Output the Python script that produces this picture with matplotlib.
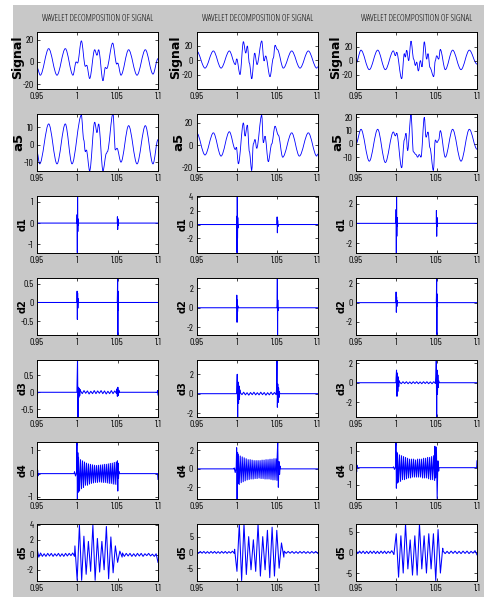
import numpy as np
import matplotlib
import matplotlib.pyplot as plt
from matplotlib.path import Path
from matplotlib.patches import PathPatch, Rectangle

matplotlib.use("Agg")

plt.rcParams["axes.unicode_minus"] = False

TICK_FONT = "Barlow Condensed"
TITLE_FONT = "Open Sans"
TITLE = "WAVELET DECOMPOSITION OF SIGNAL"
XTICKS = [0.95, 1.0, 1.05, 1.1]
XTICK_LABELS = ["0.95", "1", "1.05", "1.1"]
ROW_NAMES = ["Signal", "a5", "d1", "d2", "d3", "d4", "d5"]

# ---- signal and approximation a5 (peak / trough knots) ----
sig_c1_t = [0.950, 0.9541, 0.9645, 0.9748, 0.9851, 0.9946, 0.9985, 1.0003, 1.0050,
            1.0099, 1.0116, 1.0153, 1.0215, 1.0244, 1.0264, 1.0318, 1.0347, 1.0364,
            1.0438, 1.0488, 1.0500, 1.0541, 1.0636, 1.0740, 1.0843, 1.0938, 1.1]
sig_c1_v = [-5, -12, 12, -12, 12, -12, 0, -1, 19,
            -4, -3, -15, 11, 6, 11, -17, -5, -6,
            17, -2, -1, -12, 11, -12, 11, -11, 3]

a5_c1_t = [0.950, 0.9533, 0.9645, 0.9748, 0.9851, 0.9934, 1.0050, 1.0079, 1.0099,
           1.0112, 1.0153, 1.0215, 1.0244, 1.0264, 1.0318, 1.0360, 1.0372, 1.0442,
           1.0471, 1.0492, 1.0541, 1.0636, 1.0740, 1.0843, 1.0938, 1.1]
a5_c1_v = [-4, -11, 12, -11, 12, -11, 17, 3, -4,
           -3, -15, 13, 7, 12, -15, -5, -4, 18,
           -3, -2, -10, 11, -11, 11, -11, 3]

sig_c2_t = [0.950, 0.9603, 0.9707, 0.9802, 0.9905, 0.9979, 0.9996, 1.0037, 1.0079,
            1.0108, 1.0128, 1.0153, 1.0182, 1.0219, 1.0248, 1.0306, 1.0335, 1.0355,
            1.0409, 1.0450, 1.0471, 1.0500, 1.0574, 1.0678, 1.0781, 1.0884, 1.0988, 1.1]
sig_c2_v = [13, -11, 13, -11, 13, -6, 2, -20, 26,
            10, 20, -4, -26, 10, -6, 27, -1, 6,
            -23, 3, 21, 15, -11, 13, -11, 13, -11, -9]

a5_c2_t = [0.950, 0.9603, 0.9707, 0.9802, 0.9905, 0.9979, 0.9992, 1.0017, 1.0079,
           1.0099, 1.0128, 1.0153, 1.0182, 1.0202, 1.0223, 1.0244, 1.0306, 1.0326,
           1.0347, 1.0388, 1.0430, 1.0471, 1.0512, 1.0566, 1.0678, 1.0773, 1.0884,
           1.0988, 1.1]
a5_c2_v = [11, -9, 11, -10, 12, -4, -2, -17, 20,
           8, 18, -6, -23, 1, 5, -3, 27, 2,
           8, -15, 1, 17, 9, -11, 11, -10, 11,
           -10, -8]

sig_c3_t = [0.950, 0.9562, 0.9665, 0.9769, 0.9864, 0.9963, 0.9988, 1.0004, 1.0066,
            1.0099, 1.0112, 1.0128, 1.0153, 1.0182, 1.0215, 1.0236, 1.0252, 1.0273,
            1.0298, 1.0318, 1.0347, 1.0376, 1.0393, 1.0417, 1.0463, 1.0483, 1.0500,
            1.0525, 1.0545, 1.0607, 1.0698, 1.0802, 1.0905, 1.1]
sig_c3_v = [-4, 15, -13, 15, -13, 14, 7, 12, -26,
            10, 5, 15, 0, 28, 2, -7, -2, -15,
            0, -9, 27, 2, 10, -10, -23, 0, 7,
            2, 16, -13, 15, -13, 15, -5]

a5_c3_t = [0.950, 0.9562, 0.9665, 0.9769, 0.9864, 0.9963, 0.9988, 1.0004, 1.0066,
           1.0099, 1.0120, 1.0140, 1.0182, 1.0211, 1.0244, 1.0264, 1.0285, 1.0306,
           1.0347, 1.0368, 1.0393, 1.0417, 1.0459, 1.0483, 1.0504, 1.0525, 1.0545,
           1.0607, 1.0698, 1.0802, 1.0905, 1.1]
a5_c3_v = [0, 11, -13, 11, -14, 9, 6, 8, -18,
           3, 8, -5, 22, -6, -8, -10, -8, -10,
           20, 5, 9, -3, -20, 3, 1, 3, 10,
           -10, 11, -13, 11, -4]

# ---- details d1..d5: (t_start, t_end, values) pieces ----
d1_c1 = [(0.95, 0.9995, [0, 0]),
         (0.9997, 1.0012, [0.4, -1.4, 1.3, -0.4, 0.2, -0.1]),
         (1.0015, 1.0495, [0, 0]),
         (1.0497, 1.0507, [0.3, -0.3, 0.2, -0.1]),
         (1.051, 1.1, [0, 0])]
d2_c1 = [(0.95, 0.9995, [0, 0]),
         (0.9997, 1.001, [0.3, -0.45, 0.25, -0.15, 0.1]),
         (1.0013, 1.0495, [0, 0]),
         (1.0497, 1.0508, [0.2, 0.7, -0.9, 0.3, -0.2]),
         (1.051, 1.1, [0, 0])]
d3_c1 = [(0.95, 0.951, [0.05, -0.08, 0]),
         (0.952, 0.9995, [0, 0]),
         (0.9997, 1.0035, [0.3, 1.0, -0.75, 0.15, -0.15, 0.12, -0.1, 0.08]),
         (1.004, 1.0485, [0.04, -0.04, 0.05, -0.03, 0.04, -0.05, 0.03, -0.04, 0.05, -0.04,
                          0.04, -0.03, 0.05, -0.04, 0.04, -0.05, 0.03, -0.04, 0.05, -0.04,
                          0.04, -0.03]),
         (1.049, 1.0515, [0.1, -0.12, 0.15, -0.1, 0.06]),
         (1.052, 1.099, [0, 0]),
         (1.0995, 1.1, [0.05, -0.08])]
d4_c1 = [(0.95, 0.9515, [0.2, -0.25, 0.15, -0.1, 0]),
         (0.952, 0.996, [0, 0]),
         (0.9965, 0.999, [0.08, -0.1, 0.05]),
         (0.9995, 1.0012, [1.4, -1.1, 0.9, -0.8]),
         (1.0015, 1.0495, [0.7, -0.75, 0.6, -0.65, 0.55, -0.6, 0.5, -0.5, 0.45, -0.5,
                           0.42, -0.45, 0.4, -0.42, 0.38, -0.4, 0.36, -0.38, 0.35, -0.38,
                           0.36, -0.36, 0.37, -0.37, 0.38, -0.38, 0.4, -0.38, 0.4, -0.4,
                           0.42, -0.42, 0.44, -0.42, 0.45, -0.45, 0.48, -0.46, 0.5, -0.48]),
         (1.0497, 1.0515, [0.55, -0.75, 0.45, -0.2, 0.1]),
         (1.052, 1.0995, [0, 0]),
         (1.0997, 1.1, [-0.1, -0.25])]
d5_c1 = [(0.95, 0.9965, [0.9, -0.3, 0.25, -0.2, 0.15, -0.2, 0.2, -0.15, 0.2, -0.2, 0.15,
                         -0.15, 0.2, -0.2, 0.15, -0.2, 0.2, -0.15, 0.2, -0.1, 0.25, -0.2]),
         (0.997, 1.0555, [1.2, -3.4, 4.0, -3.4, 2.5, -2.6, 1.8, -2.2, 4.0, -3.4, 2.2,
                          -2.3, 1.8, -2.0, 3.8, -3.2, 2.4, -2.4, 1.2, -1.0, 0.5, -0.3]),
         (1.056, 1.1, [0.25, -0.2, 0.2, -0.15, 0.2, -0.2, 0.15, -0.2, 0.2, -0.15, 0.2,
                       -0.2, 0.15, -0.1, 0.2, -0.15, 0.1, -0.2, 0.15, -1.0])]

d1_c2 = [(0.95, 0.9995, [0, 0]),
         (0.9997, 1.0012, [1.2, -4.1, 4.2, -2.0, 1.0, -0.5]),
         (1.0015, 1.0495, [0, 0]),
         (1.0497, 1.0507, [1.1, -1.2, 0.6, -0.3]),
         (1.051, 1.1, [0, 0])]
d2_c2 = [(0.95, 0.9995, [0, 0]),
         (0.9997, 1.001, [1.3, -1.5, 0.8, -0.4, 0.2]),
         (1.0013, 1.0495, [0, 0]),
         (1.0497, 1.0508, [0.5, 3.1, -2.8, 0.8, -0.3]),
         (1.051, 1.1, [0, 0])]
d3_c2 = [(0.95, 0.9995, [0, 0]),
         (0.9997, 1.0035, [0.5, 2.0, -2.4, 1.2, -1.0, 0.8, -0.6, 0.4]),
         (1.004, 1.0485, [0.12, -0.1, 0.15, -0.12, 0.1, -0.15, 0.12, -0.1, 0.15, -0.12,
                          0.1, -0.12, 0.15, -0.1, 0.12, -0.15, 0.1, -0.12, 0.15, -0.1,
                          0.12, -0.1]),
         (1.049, 1.0525, [0.5, 3.5, -1.4, 1.0, -0.9, 0.6, -0.4, 0.2]),
         (1.053, 1.1, [0, 0])]
d4_c2 = [(0.95, 0.996, [0, 0]),
         (0.9965, 0.999, [0.1, -0.4, 0.2]),
         (0.9995, 1.0012, [2.3, -3.3, 1.8, -1.6]),
         (1.0015, 1.0495, [1.6, -1.7, 1.4, -1.5, 1.3, -1.4, 1.2, -1.3, 1.1, -1.2,
                           1.0, -1.15, 1.0, -1.1, 0.95, -1.1, 0.9, -1.05, 0.9, -1.05,
                           0.9, -1.0, 0.9, -1.05, 0.95, -1.05, 0.95, -1.1, 1.0, -1.1,
                           1.0, -1.1, 1.05, -1.15, 1.05, -1.2, 1.1, -1.2, 1.1, -1.25]),
         (1.0497, 1.0535, [1.2, 2.95, -2.0, 0.8, -0.6, 0.3]),
         (1.054, 1.1, [0, 0])]
d5_c2 = [(0.95, 0.9965, [0.4, -0.3, 0.3, -0.25, 0.3, -0.3, 0.25, -0.3, 0.3, -0.25, 0.3,
                         -0.3, 0.25, -0.3, 0.3, -0.25, 0.3, -0.3, 0.25, -0.2, 0.4, -0.3]),
         (0.997, 1.058, [1.0, -6.0, 9.0, -8.9, 9.0, -7.0, 5.0, -5.5, 4.0, -6.0, 9.0,
                         -7.5, 5.0, -5.5, 7.0, -8.0, 8.0, -7.5, 7.0, -5.0, 3.0, -1.5]),
         (1.0585, 1.1, [0.4, -0.3, 0.3, -0.25, 0.3, -0.3, 0.25, -0.3, 0.3, -0.25, 0.3,
                        -0.3, 0.25, -0.3, 0.3, -0.25, 0.3, -0.3])]

d1_c3 = [(0.95, 0.9995, [0, 0]),
         (0.9997, 1.0012, [1.4, -3.0, 2.8, -1.3, 0.6, -0.3]),
         (1.0015, 1.0495, [0, 0]),
         (1.0497, 1.0507, [1.3, -1.3, 0.6, -0.3]),
         (1.051, 1.1, [0, 0])]
d2_c3 = [(0.95, 0.9995, [0, 0]),
         (0.9997, 1.001, [1.1, -1.0, 0.6, -0.4, 0.2]),
         (1.0013, 1.0495, [0, 0]),
         (1.0497, 1.0508, [0.6, 2.6, -3.3, 0.9, -0.4]),
         (1.051, 1.1, [0, 0])]
d3_c3 = [(0.95, 0.9995, [0, 0]),
         (0.9997, 1.0035, [0.5, 1.3, -1.4, 1.0, -0.9, 0.6, -0.4, 0.2]),
         (1.004, 1.0485, [0.08, -0.1, 0.1, -0.08, 0.1, -0.1, 0.08, -0.1, 0.1, -0.08,
                          0.1, -0.1, 0.08, -0.1, 0.1, -0.08, 0.1, -0.1, 0.08, -0.1,
                          0.1, -0.08]),
         (1.049, 1.0525, [0.6, 2.4, -3.5, 1.3, -1.2, 0.8, -0.5, 0.2]),
         (1.053, 1.1, [0, 0])]
d4_c3 = [(0.95, 0.9515, [0.1, 0.5, -0.25, 0.15, 0]),
         (0.952, 0.996, [0, 0]),
         (0.9965, 0.999, [0.05, -0.1, 0.05]),
         (0.9995, 1.0012, [1.5, -1.2, 0.9, -0.9]),
         (1.0015, 1.0475, [0.8, -0.85, 0.75, -0.8, 0.7, -0.7, 0.65, -0.7, 0.6, -0.65,
                           0.55, -0.6, 0.5, -0.6, 0.5, -0.55, 0.5, -0.55, 0.45, -0.55,
                           0.5, -0.55, 0.5, -0.55, 0.5, -0.6, 0.55, -0.6, 0.55, -0.6,
                           0.6, -0.65, 0.6, -0.7, 0.65, -0.7, 0.7, -0.75]),
         (1.0478, 1.0525, [1.25, -0.6, 1.2, -1.8, 0.4, -0.2]),
         (1.053, 1.0995, [0, 0]),
         (1.0997, 1.1, [0.1, 0.4])]
d5_c3 = [(0.95, 0.9965, [0.5, -0.3, 0.3, -0.25, 0.3, -0.3, 0.25, -0.3, 0.3, -0.25, 0.3,
                         -0.3, 0.25, -0.3, 0.3, -0.25, 0.3, -0.3, 0.25, -0.2, 0.4, -0.3]),
         (0.997, 1.0575, [-0.5, 4.5, -6.0, 4.0, -5.0, 6.85, -4.0, 3.0, -5.5, 4.0, -5.5,
                          6.85, -4.0, 4.0, -5.0, 4.5, -4.0, 4.5, -6.8, 5.5, -5.0, 1.0]),
         (1.058, 1.1, [0.3, -0.3, 0.25, -0.3, 0.3, -0.25, 0.3, -0.3, 0.25, -0.3, 0.3,
                       -0.25, 0.3, -0.3, 0.25, -0.2, 0.4, -0.6])]

# ---- y ranges and tick values per column, top to bottom ----
ylims_c1 = [(-24, 27), (-14.8, 17.7), (-1.39, 1.28), (-0.85, 0.65), (-0.72, 0.96),
            (-1.07, 1.36), (-3.43, 4.13)]
yticks_c1 = [[-20, 0, 20], [-10, 0, 10], [-1, 0, 1], [-0.5, 0, 0.5], [-0.5, 0, 0.5],
             [-1, 0, 1], [-2, 0, 2, 4]]
ylims_c2 = [(-39.5, 39.5), (-23, 28), (-4.06, 4.14), (-2.76, 3.07), (-2.35, 3.47),
            (-3.22, 2.92), (-8.9, 9)]
yticks_c2 = [[-20, 0, 20], [-20, 0, 20], [-2, 0, 2, 4], [-2, 0, 2], [-2, 0, 2],
             [-2, 0, 2], [-5, 0, 5]]
ylims_c3 = [(-40, 41), (-20, 22.5), (-2.94, 2.76), (-3.3, 2.55), (-3.48, 2.34),
            (-1.8, 1.5), (-6.8, 6.85)]
yticks_c3 = [[-20, 0, 20], [-10, 0, 10, 20], [-2, 0, 2], [-2, 0, 2], [-2, 0, 2],
             [-1, 0, 1], [-5, 0, 5]]


def pieces_to_xy(pieces):
    t, v = [], []
    for t0, t1, vals in pieces:
        t.extend(np.linspace(t0, t1, len(vals)))
        v.extend(vals)
    return t, v


def smooth_line(ax, t, v):
    # cubic segments with flat tangents at each knot
    verts = [(t[0], v[0])]
    codes = [Path.MOVETO]
    for i in range(1, len(t)):
        dt = t[i] - t[i - 1]
        verts += [(t[i - 1] + dt / 3, v[i - 1]), (t[i] - dt / 3, v[i]), (t[i], v[i])]
        codes += [Path.CURVE4] * 3
    ax.add_patch(PathPatch(Path(verts, codes), fill=False, edgecolor="#0000ff",
                           linewidth=0.6))


columns = [
    ([(sig_c1_t, sig_c1_v), (a5_c1_t, a5_c1_v)], [d1_c1, d2_c1, d3_c1, d4_c1, d5_c1],
     ylims_c1, yticks_c1),
    ([(sig_c2_t, sig_c2_v), (a5_c2_t, a5_c2_v)], [d1_c2, d2_c2, d3_c2, d4_c2, d5_c2],
     ylims_c2, yticks_c2),
    ([(sig_c3_t, sig_c3_v), (a5_c3_t, a5_c3_v)], [d1_c3, d2_c3, d3_c3, d4_c3, d5_c3],
     ylims_c3, yticks_c3),
]

W, H = 485, 599
fig = plt.figure(figsize=(W / 100, H / 100), dpi=100, facecolor="white")
# grey window area, leaving a thin white margin on the top and left
fig.patches.append(Rectangle((13 / W, 2 / H), 1 - 13 / W, 592 / H,
                             transform=fig.transFigure, facecolor="#c8c8c8",
                             edgecolor="none", zorder=-10))

lefts = [37, 196.7, 356]
tops = [32, 114, 196, 278, 360, 442, 524]
aw, ah = 121, 56.5
signal_label_x = [-0.158, -0.172, -0.172]

for c, (smooth, details, ylims, yticks) in enumerate(columns):
    for r in range(7):
        ax = fig.add_axes([lefts[c] / W, 1 - (tops[r] + ah) / H, aw / W, ah / H])
        ax.set_facecolor("white")
        if r < 2:
            smooth_line(ax, *smooth[r])
        else:
            t, v = pieces_to_xy(details[r - 2])
            ax.plot(t, v, color="#0000ff", linewidth=0.75)
        ax.set_xlim(0.95, 1.1)
        ax.set_ylim(*ylims[r])
        ax.set_xticks(XTICKS)
        ax.set_xticklabels(XTICK_LABELS)
        ax.set_yticks(yticks[r])
        ax.set_yticklabels(["%g" % y for y in yticks[r]])
        ax.tick_params(direction="in", top=True, right=True, length=2.5, width=0.5,
                       pad=2.5, labelsize=7)
        for lab in ax.get_xticklabels() + ax.get_yticklabels():
            lab.set_family(TICK_FONT)
        for sp in ax.spines.values():
            sp.set_linewidth(0.7)
        if r == 0:
            ax.set_ylabel(ROW_NAMES[r], fontsize=9, fontweight="bold",
                          family="DejaVu Sans", va="center")
            ax.yaxis.set_label_coords(signal_label_x[c], 0.56)
            ax.set_title(TITLE, fontsize=6.5, family=TITLE_FONT, fontstretch="condensed",
                         pad=8)
        elif r == 1:
            ax.set_ylabel(ROW_NAMES[r], fontsize=9.5, fontweight="bold",
                          family="DejaVu Sans", va="center")
            ax.yaxis.set_label_coords(-0.15, 0.5)
        else:
            ax.set_ylabel(ROW_NAMES[r], fontsize=7, fontweight="bold",
                          family="DejaVu Sans", va="center")
            ax.yaxis.set_label_coords(-0.12, 0.5)

fig.savefig("out.png", dpi=100, facecolor=fig.get_facecolor())
